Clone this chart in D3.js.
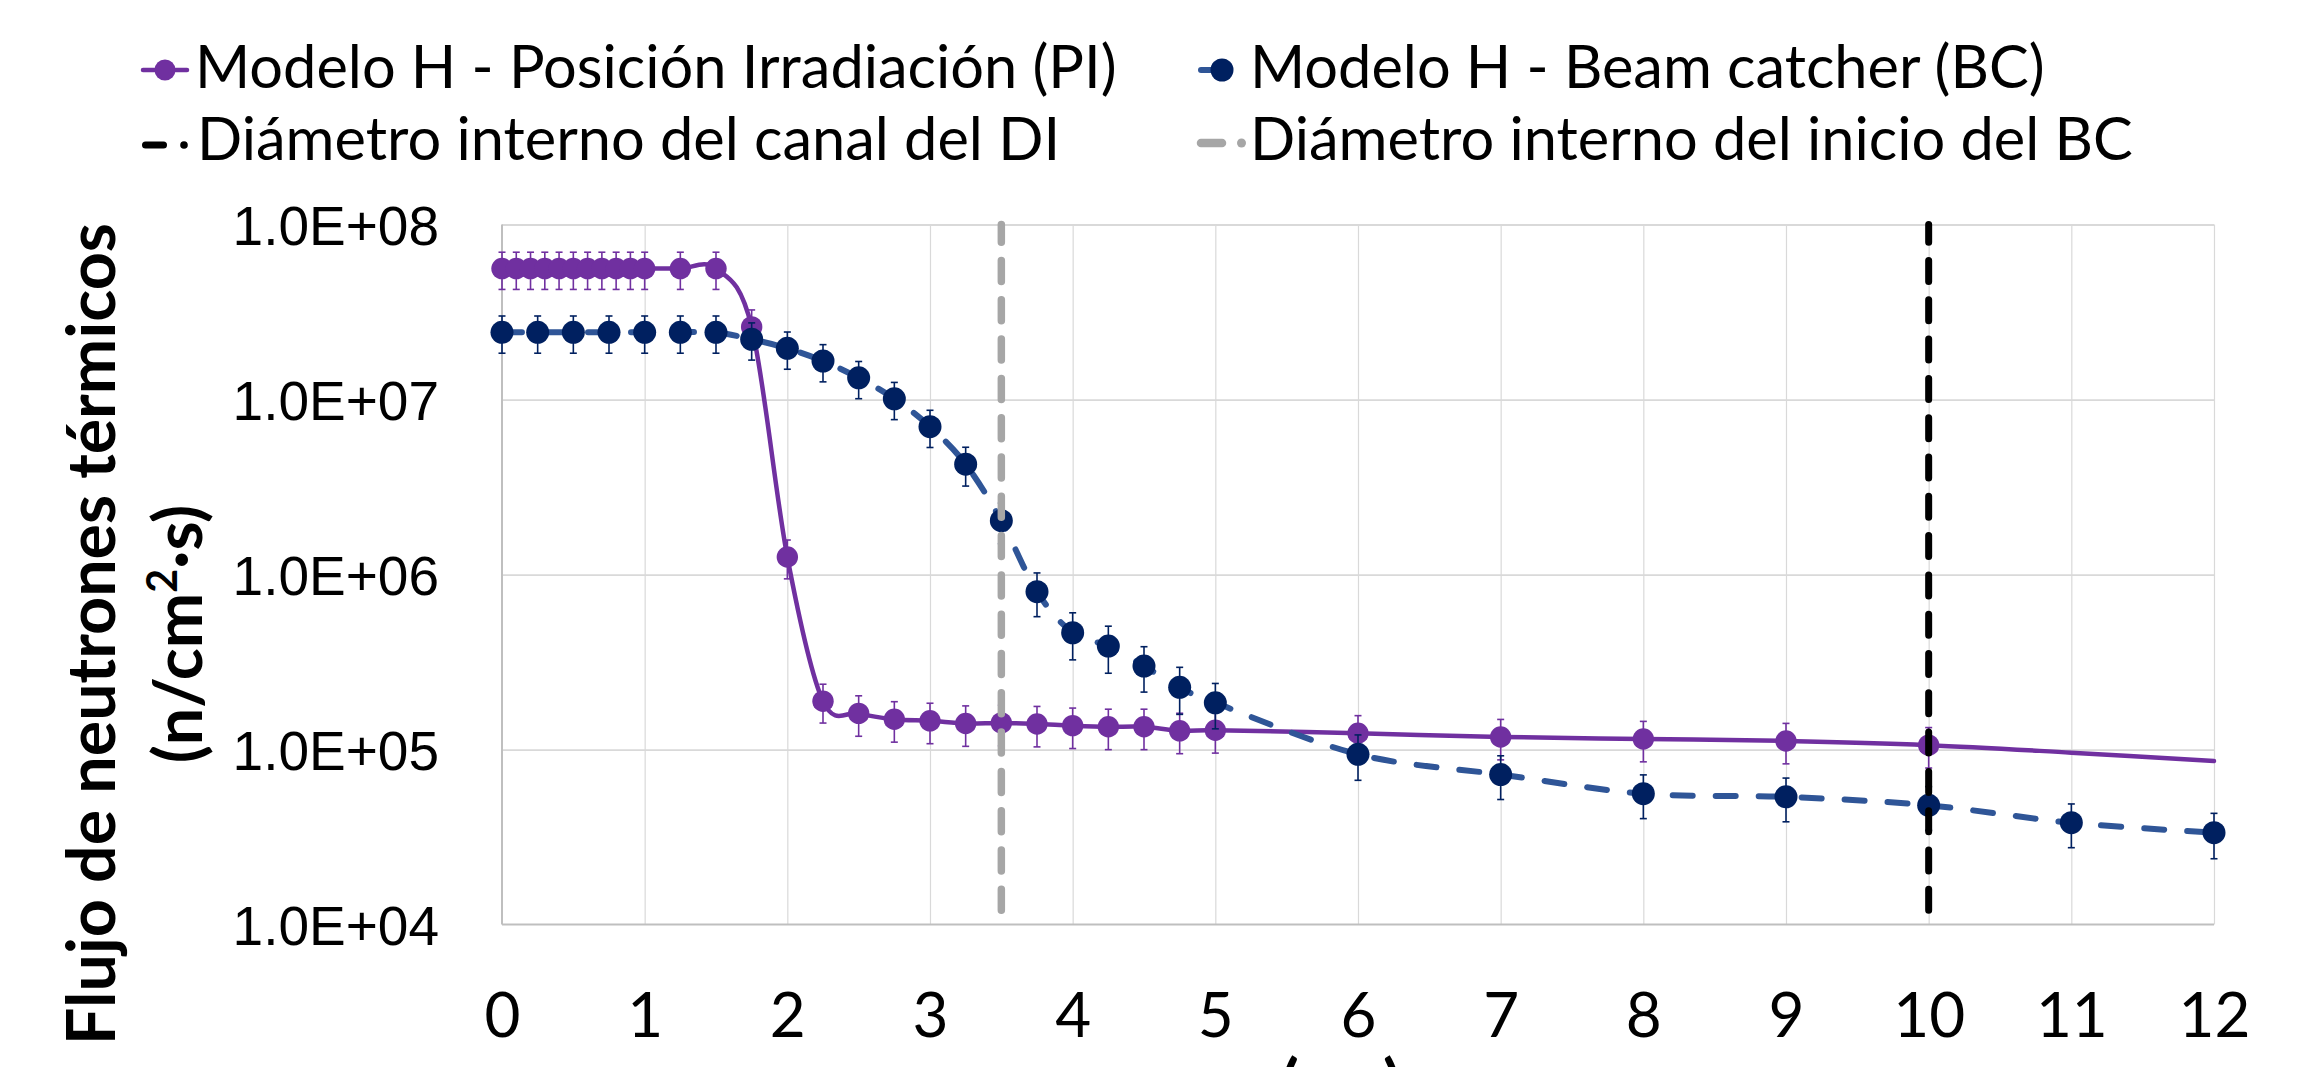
<!DOCTYPE html>
<html><head><meta charset="utf-8">
<script src="https://cdn.jsdelivr.net/npm/d3@7"></script>
<style>body{margin:0;background:#fff;} svg{display:block}</style>
</head><body>
<svg id="c" width="2316" height="1067"></svg>
<script>
// ---------- data ----------
const piX = [0,0.1,0.2,0.3,0.4,0.5,0.6,0.7,0.8,0.9,1.0,1.25,1.5,1.75,2.0,2.25,2.5,2.75,3.0,3.25,3.5,3.75,4.0,4.25,4.5,4.75,5.0,6,7,8,9,10,11,12];
const piY = [5.6e7,5.6e7,5.6e7,5.6e7,5.6e7,5.6e7,5.6e7,5.6e7,5.6e7,5.6e7,5.6e7,5.6e7,5.6e7,
             2.6e7,1.26e6,1.89e5,1.61e5,1.49e5,1.46e5,1.41e5,1.42e5,1.40e5,1.37e5,1.35e5,1.35e5,1.28e5,1.29e5,
             1.24e5,1.18e5,1.15e5,1.12e5,1.06e5,9.6e4,8.6e4];
// relative error (null = no marker / no error bar)
const piErr = [0.24,0.24,0.24,0.24,0.24,0.24,0.24,0.24,0.24,0.24,0.24,0.24,0.24,
               0.25,0.25,0.25,0.26,0.26,0.26,0.26,0.26,0.26,0.26,0.26,0.26,0.26,0.26,
               0.26,0.26,0.26,0.26,0.26,null,null];

const bcX = [0,0.25,0.5,0.75,1.0,1.25,1.5,1.75,2.0,2.25,2.5,2.75,3.0,3.25,3.5,3.75,4.0,4.25,4.5,4.75,5.0,6,7,8,9,10,11,12];
const bcY = [2.42e7,2.42e7,2.42e7,2.42e7,2.42e7,2.42e7,2.42e7,2.21e7,1.96e7,1.66e7,1.33e7,1.01e7,7.0e6,4.27e6,
             2.03e6,7.98e5,4.65e5,3.90e5,3.0e5,2.27e5,1.85e5,9.4e4,7.2e4,5.6e4,5.37e4,4.8e4,3.82e4,3.35e4];
const bcErr = [0.24,0.24,0.24,0.24,0.24,0.24,0.24,0.24,0.24,0.24,0.24,0.24,0.24,0.25,
               0.26,0.28,0.30,0.30,0.29,0.30,0.29,0.29,0.28,0.28,0.28,0.28,0.28,0.29];

const diX = [10, 10];          // Diámetro interno del canal del DI
const bcStartX = [3.5, 3.5];   // Diámetro interno del inicio del BC
const vLineY = [1e4, 1e8];

const xTicks = [0,1,2,3,4,5,6,7,8,9,10,11,12];
const xTickLabels = ["0","1","2","3","4","5","6","7","8","9","10","11","12"];
const yTicks = [1e4,1e5,1e6,1e7,1e8];
const yTickLabels = ["1.0E+04","1.0E+05","1.0E+06","1.0E+07","1.0E+08"];

const legendLabels = ["Modelo H - Posición Irradiación (PI)","Modelo H - Beam catcher (BC)",
                      "Diámetro interno del canal del DI","Diámetro interno del inicio del BC"];
const yTitle1 = "Flujo de neutrones térmicos";
const xTitle = "(cm)";

// ---------- layout ----------
const svg = d3.select("#c");
const L = 502, R = 2214, T = 224.5, B = 924.6;
const x = d3.scaleLinear().domain([0,12]).range([L,R]);
const y = d3.scaleLog().domain([1e4,1e8]).range([B,T]);

const PURPLE = "#7030A0", NAVY = "#002060", BLUE = "#2F5597", GRAY = "#A6A6A6";
const CAL = "Lato, 'Open Sans', sans-serif";

function fit(sel, w){
  const n = sel.node(); const l = n.getComputedTextLength();
  const fs = parseFloat(sel.attr("font-size"));
  sel.attr("font-size", fs*w/l);
  return fs*w/l;
}

// gridlines
const gx = svg.append("g").attr("transform",`translate(0,${B})`)
  .call(d3.axisBottom(x).tickValues(xTicks.slice(1)).tickSize(-(B-T)).tickFormat(""));
gx.select(".domain").remove();
gx.selectAll("line").attr("stroke","#D9D9D9").attr("stroke-width",1.2);
const gy = svg.append("g").attr("transform",`translate(${L},0)`)
  .call(d3.axisLeft(y).tickValues(yTicks.slice(1)).tickSize(-(R-L)).tickFormat(""));
gy.select(".domain").remove();
gy.selectAll("line").attr("stroke","#D9D9D9").attr("stroke-width",1.8);

// axis lines
svg.append("line").attr("x1",L).attr("x2",L).attr("y1",T).attr("y2",B).attr("stroke","#BFBFBF").attr("stroke-width",2);
svg.append("line").attr("x1",L).attr("x2",R).attr("y1",B).attr("y2",B).attr("stroke","#BFBFBF").attr("stroke-width",2);

// tick labels via axes
const ax = svg.append("g").attr("transform",`translate(0,${B})`)
  .call(d3.axisBottom(x).tickValues(xTicks).tickSize(0).tickFormat((d,i)=>xTickLabels[i]));
ax.select(".domain").remove();
ax.selectAll("text").attr("font-family",CAL).attr("font-size",62).attr("fill","#000")
  .attr("dy",null).attr("y",1037-B);

const ay = svg.append("g").attr("transform",`translate(439,0)`)
  .call(d3.axisLeft(y).tickValues(yTicks).tickSize(0).tickFormat((d,i)=>yTickLabels[i]));
ay.select(".domain").remove();
ay.selectAll("text").attr("font-family","'Liberation Sans', Arial, sans-serif").attr("font-size",55)
  .attr("fill","#000").attr("x",0).attr("dy",null).attr("dominant-baseline",null).attr("y",20);

// ---------- series ----------
const lineGen = d3.line().x(d=>x(d[0])).y(d=>y(d[1])).curve(d3.curveCardinal.tension(0));

function drawSeries(xs, ys, errs, lineColor, lineW, dash, markColor, r){
  const pts = xs.map((v,i)=>[v, ys[i], errs[i]]);
  const g = svg.append("g");
  // error bars
  const eb = g.append("g").attr("stroke",markColor).attr("stroke-width",1.6);
  pts.filter(p=>p[2]!=null).forEach(p=>{
    const cx = x(p[0]), y1 = y(p[1]*(1+p[2])), y2 = y(p[1]*(1-p[2]));
    eb.append("line").attr("x1",cx).attr("x2",cx).attr("y1",y1).attr("y2",y2);
    eb.append("line").attr("x1",cx-3.5).attr("x2",cx+3.5).attr("y1",y1).attr("y2",y1);
    eb.append("line").attr("x1",cx-3.5).attr("x2",cx+3.5).attr("y1",y2).attr("y2",y2);
  });
  g.append("path").attr("d",lineGen(pts)).attr("fill","none").attr("stroke",lineColor)
    .attr("stroke-width",lineW).attr("stroke-dasharray",dash).attr("stroke-linecap","round");
  g.selectAll("circle").data(pts.filter(p=>p[2]!=null)).join("circle")
    .attr("cx",d=>x(d[0])).attr("cy",d=>y(d[1])).attr("r",r).attr("fill",markColor);
}
drawSeries(piX, piY, piErr, PURPLE, 4.5, null, PURPLE, 10.7);
drawSeries(bcX, bcY, bcErr, BLUE, 6, "20,23", NAVY, 11.5);

// vertical reference lines
function vline(xs, color, w){
  svg.append("path").attr("d", d3.line()([[x(xs[0]), y(vLineY[1])],[x(xs[1]), y(vLineY[0])]]))
    .attr("stroke",color).attr("stroke-width",w).attr("fill","none")
    .attr("stroke-dasharray","21,18.3").attr("stroke-dashoffset",3.3).attr("stroke-linecap","round");
}
vline(bcStartX, GRAY, 7.5);
vline(diX, "#000", 7);

// ---------- legend ----------
const lg = svg.append("g");
lg.append("line").attr("x1",143).attr("x2",187).attr("y1",70).attr("y2",70).attr("stroke",PURPLE).attr("stroke-width",4.5).attr("stroke-linecap","round");
lg.append("circle").attr("cx",165).attr("cy",70).attr("r",10.5).attr("fill",PURPLE);
lg.append("line").attr("x1",1201).attr("x2",1214).attr("y1",70).attr("y2",70).attr("stroke",BLUE).attr("stroke-width",6).attr("stroke-linecap","round");
lg.append("circle").attr("cx",1222).attr("cy",70).attr("r",11.5).attr("fill",NAVY);
lg.append("line").attr("x1",145.5).attr("x2",163.5).attr("y1",145).attr("y2",145).attr("stroke","#000").attr("stroke-width",7).attr("stroke-linecap","round");
lg.append("circle").attr("cx",184).attr("cy",145).attr("r",3.8).attr("fill","#000");
lg.append("line").attr("x1",1201).attr("x2",1222).attr("y1",143).attr("y2",143).attr("stroke",GRAY).attr("stroke-width",8.5).attr("stroke-linecap","round");
lg.append("circle").attr("cx",1241.5).attr("cy",143).attr("r",4.5).attr("fill",GRAY);

const lpos = [[195,88],[1250,88],[197,160],[1250,160]];
const lt = lpos.map((p,i)=>lg.append("text").attr("x",p[0]).attr("y",p[1]).attr("font-family",CAL)
  .attr("font-size",56).attr("fill","#000").text(legendLabels[i]));
const lfs = fit(lt[0], 922);
lt.forEach(t=>t.attr("font-size",lfs));

// ---------- axis titles ----------
const yt = svg.append("g").attr("transform","translate(0,634) rotate(-90)");
const t1 = yt.append("text").attr("x",0).attr("y",115).attr("text-anchor","middle")
  .attr("font-family",CAL).attr("font-weight","bold").attr("font-size",64).attr("fill","#000").text(yTitle1);
const tfs = fit(t1, 822);
const t2 = yt.append("text").attr("x",0).attr("y",202).attr("text-anchor","middle")
  .attr("font-family",CAL).attr("font-weight","bold").attr("font-size",tfs).attr("fill","#000");
t2.append("tspan").text("(n/cm");
t2.append("tspan").attr("font-size",tfs*0.62).attr("dy",-tfs*0.38).text("2");
t2.append("tspan").attr("dy",tfs*0.38).text("·s)");

svg.append("text").attr("x",1341).attr("y",1108).attr("text-anchor","middle")
  .attr("font-family",CAL).attr("font-weight","bold").attr("font-size",66).attr("fill","#000").text(xTitle);
</script>
</body></html>
